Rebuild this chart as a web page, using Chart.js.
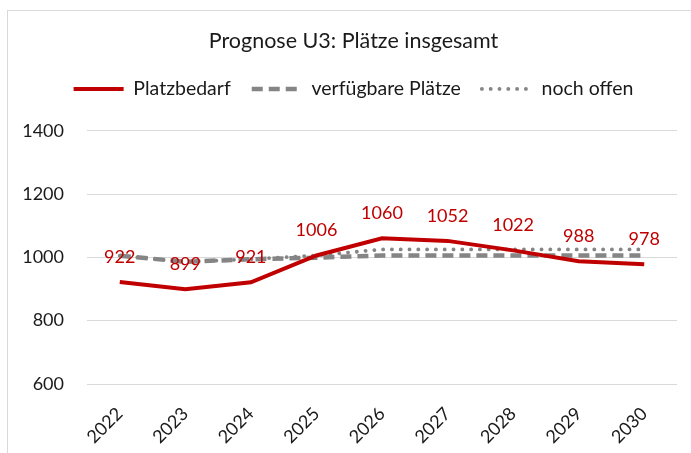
<!DOCTYPE html>
<html>
<head>
<meta charset="utf-8">
<script src="https://cdn.jsdelivr.net/npm/chart.js@4.4.1/dist/chart.umd.min.js"></script>
<style>
  html, body { margin: 0; padding: 0; background: #fff; }
  #wrap { position: relative; width: 691px; height: 453px; }
</style>
</head>
<body>
<div id="wrap"><canvas id="chart"></canvas></div>
<script>
// values
const years = ['2022', '2023', '2024', '2025', '2026', '2027', '2028', '2029', '2030']
const platzbedarf = [922, 899, 921, 1006, 1060, 1052, 1022, 988, 978]
const verfuegbarePlaetze = [1005, 986, 994, 999, 1006, 1006, 1006, 1006, 1006]
const nochOffen = [1005, 986, 994, 1006, 1025, 1025, 1025, 1025, 1025]
const yMin = 600
const yMax = 1400
const yStep = 200

const FONT = 'Lato, "Open Sans", sans-serif'
const TEXT = '#1a1a1a'
const RED = '#C00000'
const GREY = '#858585'

// light frame round the whole chart
const framePlugin = {
  id: 'frame',
  beforeDraw(chart) {
    const ctx = chart.ctx
    ctx.save()
    ctx.fillStyle = '#fff'
    ctx.fillRect(0, 0, chart.width, chart.height)
    ctx.strokeStyle = '#d9d9d9'
    ctx.lineWidth = 1
    ctx.strokeRect(7.5, 10.5, chart.width + 10, chart.height + 10)
    ctx.restore()
  }
}

// some room between legend and plot
const legendMargin = {
  id: 'legendMargin',
  beforeInit(chart) {
    const fit = chart.legend.fit
    chart.legend.fit = function () {
      fit.bind(chart.legend)()
      this.height += 22
    }
  }
}

// red value labels above the Platzbedarf line
const valueLabels = {
  id: 'valueLabels',
  afterDatasetsDraw(chart) {
    const ctx = chart.ctx
    const meta = chart.getDatasetMeta(0)
    ctx.save()
    ctx.font = '18px ' + FONT
    ctx.fillStyle = RED
    ctx.textAlign = 'center'
    ctx.textBaseline = 'middle'
    meta.data.forEach((pt, i) => {
      ctx.fillText(String(platzbedarf[i]), pt.x, pt.y - 25)
    })
    ctx.restore()
  }
}

const CHART = document.getElementById('chart')

let myChart = new Chart(CHART, {
  type: 'line',
  data: {
    labels: years,
    datasets: [
      {
        label: 'Platzbedarf',
        data: platzbedarf,
        borderColor: RED,
        backgroundColor: RED,
        borderWidth: 4,
        pointRadius: 0,
        tension: 0
      },
      {
        label: 'verfügbare Plätze',
        data: verfuegbarePlaetze,
        borderColor: GREY,
        backgroundColor: GREY,
        borderWidth: 4.5,
        borderDash: [11, 6],
        pointRadius: 0,
        tension: 0
      },
      {
        label: 'noch offen',
        data: nochOffen,
        borderColor: GREY,
        backgroundColor: GREY,
        borderWidth: 3.8,
        borderDash: [0.1, 8.7],
        borderCapStyle: 'round',
        pointRadius: 0,
        tension: 0
      }
    ]
  },
  options: {
    responsive: true,
    maintainAspectRatio: false,
    animation: false,
    layout: {
      padding: { top: 20, left: 30, right: 14, bottom: 0 }
    },
    plugins: {
      title: {
        display: true,
        text: 'Prognose U3: Plätze insgesamt',
        color: TEXT,
        font: { family: FONT, size: 21.5, weight: 'normal' },
        padding: { top: 8, bottom: 4.4 }
      },
      legend: {
        display: true,
        labels: {
          color: TEXT,
          font: { family: FONT, size: 19.5 },
          usePointStyle: true,
          pointStyleWidth: 50,
          padding: 21,
          generateLabels(chart) {
            return chart.data.datasets.map((ds, i) => ({
              text: ds.label,
              fillStyle: ds.borderColor,
              strokeStyle: ds.borderColor,
              fontColor: TEXT,
              lineWidth: ds.borderWidth,
              lineDash: ds.borderDash || [],
              lineCap: ds.borderCapStyle || 'butt',
              pointStyle: 'line',
              hidden: false,
              datasetIndex: i
            }))
          }
        }
      },
      tooltip: { enabled: false }
    },
    scales: {
      x: {
        offset: true,
        afterFit(scale) {
          scale.height = 69
        },
        grid: { display: false, drawTicks: false },
        border: { display: false },
        ticks: {
          color: TEXT,
          font: { family: FONT, size: 18 },
          minRotation: 45,
          maxRotation: 45,
          padding: 19
        }
      },
      y: {
        min: yMin,
        max: yMax,
        afterFit(scale) {
          scale.width = 57
        },
        afterUpdate(scale) {
          // let the tick labels reach past the axis box on the left
          scale._computeLabelArea = () => undefined
        },
        grid: { color: '#d9d9d9', lineWidth: 1, drawTicks: false },
        border: { display: false },
        ticks: {
          stepSize: yStep,
          color: TEXT,
          font: { family: FONT, size: 18 },
          padding: 23,
          callback: (v) => String(v)
        }
      }
    }
  },
  plugins: [framePlugin, legendMargin, valueLabels]
})
</script>
</body>
</html>
